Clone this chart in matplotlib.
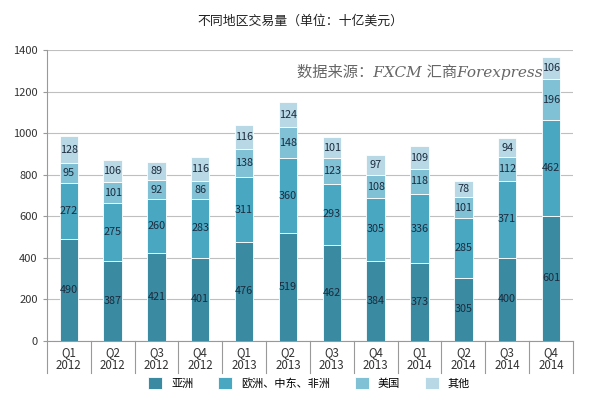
import matplotlib
matplotlib.use("Agg")
import matplotlib.pyplot as plt
import numpy as np

plt.rcParams["font.family"] = ["Noto Sans CJK SC", "DejaVu Sans"]

quarters = ["Q1\n2012", "Q2\n2012", "Q3\n2012", "Q4\n2012",
            "Q1\n2013", "Q2\n2013", "Q3\n2013", "Q4\n2013",
            "Q1\n2014", "Q2\n2014", "Q3\n2014", "Q4\n2014"]
asia   = [490, 387, 421, 401, 476, 519, 462, 384, 373, 305, 400, 601]
europe = [272, 275, 260, 283, 311, 360, 293, 305, 336, 285, 371, 462]
usa    = [95, 101, 92, 86, 138, 148, 123, 108, 118, 101, 112, 196]
other  = [128, 106, 89, 116, 116, 124, 101, 97, 109, 78, 94, 106]
series = [("亚洲", asia, "#3a8ba1"), ("欧洲、中东、非洲", europe, "#4aa7c1"),
          ("美国", usa, "#80c1d5"), ("其他", other, "#b7d8e4")]
TXT = "#1c2b3e"

fig = plt.figure(figsize=(6, 4.03), dpi=100)
ax = fig.add_axes([0.078, 0.154, 0.877, 0.722])
x = np.arange(len(quarters))
bottom = np.zeros(len(quarters))
for name, vals, col in series:
    ax.bar(x, vals, 0.42, bottom=bottom, color=col, edgecolor="white", lw=0.6, label=name, zorder=3)
    for i, v in enumerate(vals):
        ax.text(i, bottom[i] + v / 2, str(v), ha="center", va="center", fontsize=7.8, color=TXT, zorder=4)
    bottom += np.array(vals)

ax.set_xlim(-0.5, len(quarters) - 0.5)
ax.set_ylim(0, 1400)
ax.set_yticks(range(0, 1401, 200))
ax.tick_params(axis="y", labelsize=8, colors="#333333", length=3, color="#999999")
ax.set_xticks(x)
ax.set_xticklabels(quarters, fontsize=8.3, color="#333333", linespacing=1.0)
ax.tick_params(axis="x", length=0, pad=4)
ax.grid(axis="y", color="#bfbfbf", lw=0.8, zorder=0)
for s in ["top", "right"]:
    ax.spines[s].set_visible(False)
ax.spines["left"].set_color("#999999")
ax.spines["bottom"].set_color("#999999")
# category separators below the axis
for b in np.arange(-0.5, len(quarters), 1.0):
    ax.plot([b, b], [0, -0.11], transform=ax.get_xaxis_transform(), color="#999999", lw=0.8, clip_on=False)

fig.text(0.5, 0.948, "不同地区交易量（单位：十亿美元）", ha="center", va="center", fontsize=9.3,
         color="#222222", fontweight="medium")
ax.text(0.475, 0.925, "数据来源：FXCM 汇商Forexpress", transform=ax.transAxes, ha="left", va="center",
        fontsize=11, style="italic", color="#666666", family=["DejaVu Serif", "Noto Sans CJK SC"])

fig.legend(loc="center", bbox_to_anchor=(0.515, 0.05), ncol=4, frameon=False, fontsize=8,
           handlelength=1.3, handleheight=1.3, columnspacing=2.2)

fig.savefig("out.png", facecolor="white")
